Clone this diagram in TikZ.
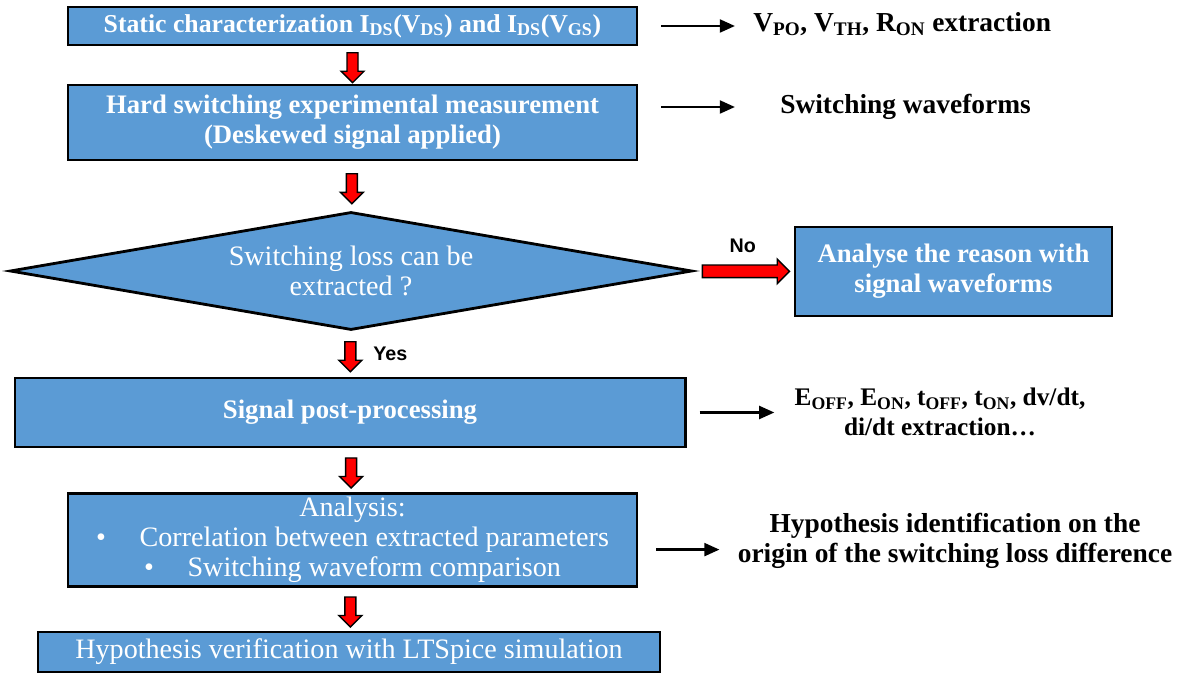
\documentclass[tikz,border=0pt]{standalone}
\usepackage{fontspec}
\setmainfont{Liberation Serif}
\newfontfamily\yesnofont{Liberation Sans}
\usetikzlibrary{
  arrows.meta,       % 黑色细箭头
  shapes.geometric,  % 菱形判断框
  shapes.arrows      % 红色块状箭头
}
\definecolor{boxblue}{HTML}{5B9BD5}
\tikzset{
  flow box/.style={
    draw=black,
    line width=2pt,
    fill=boxblue,
    text=white,
    align=center,
    inner sep=0pt,
    font=\fontsize{19}{21.5}\selectfont\bfseries
  },
  plain box/.style={
    flow box,
    font=\fontsize{20}{21.5}\selectfont
  },
  decision/.style={
    diamond,
    draw=black,
    line width=2pt,
    fill=boxblue,
    text=white,
    align=center,
    inner sep=0pt,
    aspect=5.8,
    minimum width=17.05cm,
    minimum height=2.95cm,
    font=\fontsize{20}{21.5}\selectfont
  },
  down arrow/.style={
    single arrow,
    draw=black,
    fill=red,
    line width=1pt,
    inner sep=0.12cm,
    shape border rotate=270,
    minimum height=0.75cm,
    single arrow head extend=0.15cm
  },
  side arrow/.style={
    single arrow,
    draw=black,
    fill=red,
    line width=1pt,
    inner sep=0.14cm,
    minimum height=2.18cm,
    single arrow head extend=0.15cm
  },
  out arrow/.style={
    -{Triangle[length=0.38cm, width=0.32cm]},
    line width=2pt
  },
  note/.style={
    align=center,
    inner sep=0pt,
    font=\fontsize{19.5}{21.5}\selectfont\bfseries
  },
  branch label/.style={
    font=\yesnofont\fontsize{14}{16}\selectfont\bfseries
  }
}

\begin{document}
\begin{tikzpicture}[x=0.025cm, y=-0.025cm]
  \useasboundingbox (0,0) rectangle (1177,674);

  % ======================= 主流程 =======================
  \node[flow box, minimum width=14.225cm, minimum height=0.95cm,
        font=\fontsize{18.3}{21.5}\selectfont\bfseries] (static) at (352.5, 26)
    {Static characterization I\textsubscript{DS}(V\textsubscript{DS}) and I\textsubscript{DS}(V\textsubscript{GS})};
  \node[flow box, minimum width=14.225cm, minimum height=1.875cm] (hard) at (352.5, 122.5)
    {Hard switching experimental measurement\\(Deskewed signal applied)};
  \node[decision] (extract) at (351, 271)
    {Switching loss can be\\extracted ?};
  \node[flow box, minimum width=16.75cm, minimum height=1.725cm] (post) at (350, 412.5)
    {Signal post-processing};
  \node[plain box, minimum width=14.225cm, minimum height=2.325cm] (analysis) at (352.5, 540)
    {Analysis:\\
     \textbullet\hspace{1.2em}Correlation between extracted parameters\\
     \textbullet\hspace{1.2em}Switching waveform comparison};
  \node[plain box, minimum width=15.55cm, minimum height=1.0cm] (verify) at (349, 652)
    {Hypothesis verification with LTSpice simulation};

  % 否定分支
  \node[flow box, minimum width=7.925cm, minimum height=2.225cm] (reason) at (953.5, 271.5)
    {Analyse the reason with\\signal waveforms};

  % ======================= 红色箭头 =======================
  \path (static) -- node[down arrow] {} (hard);
  \path (hard) -- node[down arrow] {} (extract);
  \path (extract) -- node[down arrow] (yesarrow) {} (post);
  \path (post) -- node[down arrow] {} (analysis);
  \path (analysis) -- node[down arrow] {} (verify);
  \path (extract) -- node[side arrow] (noarrow) {} (reason);

  \node[branch label, anchor=west] (yes) at ([xshift=0.45cm]yesarrow.center) {Yes};
  \node[branch label, anchor=south] (no) at ([yshift=0.35cm]noarrow.center) {No};

  % ======================= 右侧结果 =======================
  \node[note, anchor=west] (params) at (753, 24)
    {V\textsubscript{PO}, V\textsubscript{TH}, R\textsubscript{ON} extraction};
  \node[note, anchor=west] (waves) at (780, 107)
    {Switching waveforms};
  \node[note, font=\fontsize{18}{21.5}\selectfont\bfseries] (losses) at (940, 412)
    {E\textsubscript{OFF}, E\textsubscript{ON}, t\textsubscript{OFF}, t\textsubscript{ON}, dv/dt,\\di/dt extraction\dots};
  \node[note] (hypo) at (955, 541)
    {Hypothesis identification on the\\origin of the switching loss difference};

  \draw[out arrow, shorten <=0.575cm, shorten >=0.45cm] (static.east) -- (static.east -| params.west);
  \draw[out arrow, shorten <=0.575cm, shorten >=1.125cm] (waves.west -| hard.east) -- (waves.west);
  \draw[out arrow, shorten <=0.325cm, shorten >=0.5cm] (post.east) -- (post.east -| losses.west);
  \draw[out arrow, shorten <=0.45cm, shorten >=0.45cm]
    ([yshift=-0.24cm]analysis.east) -- ([yshift=-0.24cm]analysis.east -| hypo.west);

\end{tikzpicture}
\end{document}
